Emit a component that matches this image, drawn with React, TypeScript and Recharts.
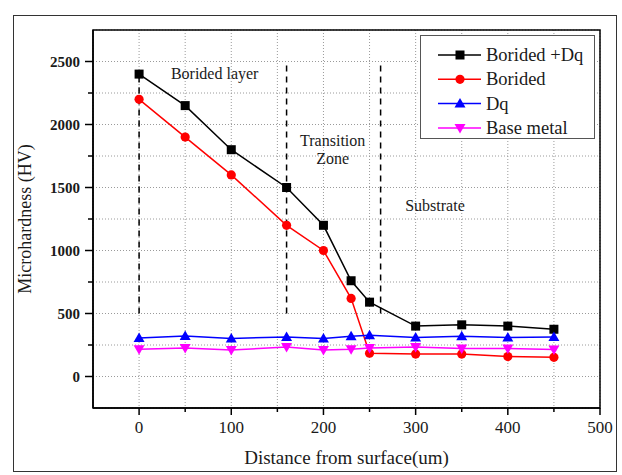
import { LineChart, Line, XAxis, YAxis, CartesianGrid, Legend, ReferenceLine, ReferenceArea, ReferenceDot } from 'recharts';

const distances = [0, 50, 100, 160, 200, 230, 250, 300, 350, 400, 450];
const boridedDq = [2400, 2150, 1800, 1500, 1200, 760, 590, 400, 410, 400, 375];
const borided = [2200, 1900, 1600, 1200, 1000, 620, 185, 178, 178, 158, 152];
const dq = [306, 322, 302, 314, 302, 320, 328, 310, 320, 310, 314];
const baseMetal = [217, 227, 210, 235, 210, 217, 227, 235, 222, 222, 214];

const xTicks = [-50, 0, 50, 100, 150, 200, 250, 300, 350, 400, 450, 500];
const yTicks = [-250, 0, 250, 500, 750, 1000, 1250, 1500, 1750, 2000, 2250, 2500, 2750];
const xLabels = [0, 100, 200, 300, 400, 500];
const yLabels = [0, 500, 1000, 1500, 2000, 2500];

const FONT = 'Liberation Serif, Times New Roman, DejaVu Serif, serif';
const INK = '#1a1a1a';

const series = [
  { key: 'boridedDq', name: 'Borided +Dq', color: '#000000', shape: 'square' },
  { key: 'borided', name: 'Borided', color: '#ff0000', shape: 'circle' },
  { key: 'dq', name: 'Dq', color: '#0000ff', shape: 'up' },
  { key: 'baseMetal', name: 'Base metal', color: '#ff00ff', shape: 'down' },
];

const data = distances.map((d, i) => ({
  d,
  boridedDq: boridedDq[i],
  borided: borided[i],
  dq: dq[i],
  baseMetal: baseMetal[i],
}));

function Marker({ cx, cy, shape, color }: { cx: number; cy: number; shape: string; color: string }) {
  if (shape === 'square') return <rect x={cx - 4.5} y={cy - 4.5} width={9} height={9} fill={color} />;
  if (shape === 'circle') return <circle cx={cx} cy={cy} r={4.6} fill={color} />;
  if (shape === 'up') return <polygon points={`${cx},${cy - 5.5} ${cx + 5.5},${cy + 4} ${cx - 5.5},${cy + 4}`} fill={color} />;
  return <polygon points={`${cx},${cy + 5.5} ${cx + 5.5},${cy - 4} ${cx - 5.5},${cy - 4}`} fill={color} />;
}

const makeDot = (shape: string, color: string) => (props: any) => (
  <g key={`${shape}-${props.index}`}>
    <Marker cx={props.cx} cy={props.cy} shape={shape} color={color} />
  </g>
);

const YTick = (props: any) => {
  const { x, y, payload } = props;
  const v = payload.value;
  if (v === -250 || v === 2750) return <g />;
  const major = v % 500 === 0;
  return (
    <g>
      <line x1={x} x2={x - (major ? 8 : 5)} y1={y} y2={y} stroke="#000" strokeWidth={1.5} />
      {yLabels.includes(v) && (
        <text x={x - 13} y={y} dy={5} textAnchor="end" style={{ fontFamily: FONT, fontWeight: 'bold', fontSize: 15 }} fill={INK}>
          {v}
        </text>
      )}
    </g>
  );
};

const XTick = (props: any) => {
  const { x, y, payload } = props;
  const v = payload.value;
  if (v === -50) return <g />;
  const major = v % 100 === 0;
  return (
    <g>
      <line x1={x} x2={x} y1={y} y2={y + (major ? 7 : 4)} stroke="#000" strokeWidth={1.5} />
      {xLabels.includes(v) && (
        <text x={x} y={y + 25} textAnchor="middle" style={{ fontFamily: FONT, fontSize: 17 }} fill={INK}>
          {v}
        </text>
      )}
    </g>
  );
};

const LegendBox = () => (
  <svg width={175} height={104} style={{ display: 'block' }}>
    <rect x={0.5} y={0.5} width={174} height={103} fill="#fff" stroke="#555" strokeWidth={1} />
    {series.map((s, i) => {
      const cy = 20 + i * 24.3;
      return (
        <g key={s.key}>
          <line x1={18} x2={61} y1={cy} y2={cy} stroke={s.color} strokeWidth={1.5} />
          <Marker cx={40} cy={cy} shape={s.shape} color={s.color} />
          <text x={66} y={cy + 6} style={{ fontFamily: FONT, fontSize: 18.5 }} fill={INK}>
            {s.name}
          </text>
        </g>
      );
    })}
  </svg>
);

const noteStyle = { fontFamily: FONT, fontSize: 16, fill: INK };

export default function App() {
  return (
    <div style={{ position: 'absolute', left: 0, top: 0, width: 622, height: 475, background: '#fff', fontFamily: FONT }}>
      <div
        style={{
          position: 'absolute',
          left: 13,
          top: 15,
          width: 604,
          height: 457,
          border: '1px solid #333',
          boxSizing: 'border-box',
        }}
      />
      <LineChart width={622} height={475} data={data} margin={{ top: 30, right: 22, bottom: 0, left: 0 }} style={{ fontFamily: FONT }}>
        <CartesianGrid stroke="#9a9a9a" strokeDasharray="1 2" strokeWidth={1} />
        <XAxis
          dataKey="d"
          type="number"
          domain={[-50, 500]}
          ticks={xTicks}
          interval={0}
          height={67}
          tickSize={0}
          tickMargin={0}
          tickLine={false}
          axisLine={{ stroke: '#000', strokeWidth: 1.5 }}
          tick={XTick}
          allowDataOverflow
          label={{ value: 'Distance from surface(um)', position: 'insideBottom', offset: 11, style: { fontFamily: FONT, fontSize: 19, fill: INK } }}
        />
        <YAxis
          type="number"
          domain={[-250, 2750]}
          ticks={yTicks}
          interval={0}
          width={93}
          tickSize={0}
          tickMargin={0}
          tickLine={false}
          axisLine={{ stroke: '#000', strokeWidth: 1.5 }}
          tick={YTick}
          allowDataOverflow
          label={{ value: 'Microhardness (HV)', angle: -90, position: 'insideLeft', offset: 25, style: { fontFamily: FONT, fontSize: 18, fill: INK, textAnchor: 'middle' } }}
        />
        <ReferenceArea x1={-50} x2={500} y1={-250} y2={2750} fill="none" fillOpacity={0} stroke="#000" strokeWidth={1.5} />
        <ReferenceLine segment={[{ x: 0, y: 500 }, { x: 0, y: 2400 }]} stroke="#000" strokeWidth={1.5} strokeDasharray="6 5" />
        <ReferenceLine segment={[{ x: 160, y: 500 }, { x: 160, y: 2500 }]} stroke="#000" strokeWidth={1.5} strokeDasharray="6 5" />
        <ReferenceLine segment={[{ x: 262, y: 500 }, { x: 262, y: 2500 }]} stroke="#000" strokeWidth={1.5} strokeDasharray="6 5" />
        <ReferenceDot x={82} y={2407} r={0} fill="none" stroke="none" label={{ value: 'Borided layer', position: 'center', style: noteStyle }} />
        <ReferenceDot x={210} y={1875} r={0} fill="none" stroke="none" label={{ value: 'Transition', position: 'center', style: noteStyle }} />
        <ReferenceDot x={210} y={1732} r={0} fill="none" stroke="none" label={{ value: 'Zone', position: 'center', style: noteStyle }} />
        <ReferenceDot x={321} y={1360} r={0} fill="none" stroke="none" label={{ value: 'Substrate', position: 'center', style: noteStyle }} />
        {series.map(s => (
          <Line
            key={s.key}
            type="linear"
            dataKey={s.key}
            name={s.name}
            stroke={s.color}
            strokeWidth={1.5}
            dot={makeDot(s.shape, s.color)}
            activeDot={false}
            isAnimationActive={false}
          />
        ))}
        <Legend
          layout="vertical"
          align="center"
          verticalAlign="middle"
          content={() => <LegendBox />}
          wrapperStyle={{ position: 'absolute', left: 420, top: 35, width: 175, height: 104 }}
        />
      </LineChart>
    </div>
  );
}
